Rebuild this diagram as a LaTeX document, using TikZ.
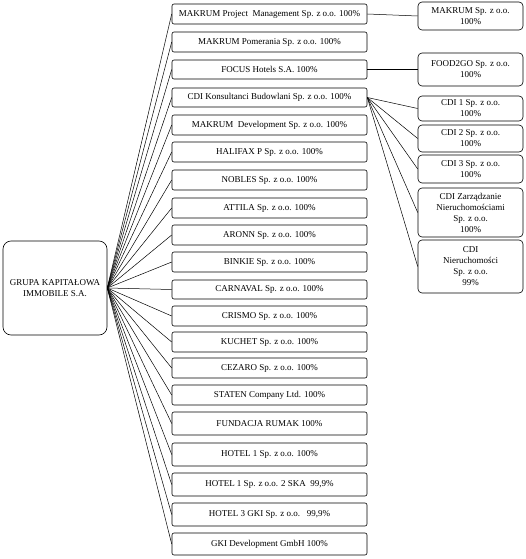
\documentclass[tikz,border=0pt]{standalone}
\usepackage{fontspec}
\setmainfont{Liberation Serif}
\begin{document}
\begin{tikzpicture}[x=1pt,y=-1pt,
  every node/.style={font=\fontsize{9}{11}\selectfont, inner sep=0pt, align=center},
  mid/.style={draw, rounded corners=2pt, minimum width=195pt, line width=0.6pt},
  sub/.style={draw, rounded corners=4pt, minimum width=105pt, line width=0.6pt},
  link/.style={line width=0.5pt}]
\useasboundingbox (0,0) rectangle (526,559);
\node[draw, rounded corners=8pt, minimum width=104pt, minimum height=94pt, line width=0.6pt] (g) at (55,288) {GRUPA KAPITAŁOWA\\IMMOBILE S.A.};
\node[mid, minimum height=20pt] (m1) at (269.5,14) {MAKRUM Project\ \ Management Sp. z o.o. 100\%};
\node[mid, minimum height=20pt] (m2) at (269.5,42) {MAKRUM Pomerania Sp. z o.o. 100\%};
\node[mid, minimum height=19pt] (m3) at (269.5,69.5) {FOCUS Hotels S.A. 100\%};
\node[mid, minimum height=19pt] (m4) at (269.5,97.5) {CDI Konsultanci Budowlani Sp. z o.o. 100\%};
\node[mid, minimum height=20pt] (m5) at (269.5,125) {MAKRUM\ \ Development Sp. z o.o. 100\%};
\node[mid, minimum height=20pt] (m6) at (269.5,152) {HALIFAX P Sp. z o.o. 100\%};
\node[mid, minimum height=20pt] (m7) at (269.5,180) {NOBLES Sp. z o.o. 100\%};
\node[mid, minimum height=20pt] (m8) at (269.5,208) {ATTILA Sp. z o.o. 100\%};
\node[mid, minimum height=20pt] (m9) at (269.5,235) {ARONN Sp. z o.o. 100\%};
\node[mid, minimum height=20pt] (m10) at (269.5,262) {BINKIE Sp. z o.o. 100\%};
\node[mid, minimum height=19pt] (m11) at (269.5,289.5) {CARNAVAL Sp. z o.o. 100\%};
\node[mid, minimum height=20pt] (m12) at (269.5,316) {CRISMO Sp. z o.o. 100\%};
\node[mid, minimum height=20pt] (m13) at (269.5,342) {KUCHET Sp. z o.o. 100\%};
\node[mid, minimum height=20pt] (m14) at (269.5,368) {CEZARO Sp. z o.o. 100\%};
\node[mid, minimum height=20pt] (m15) at (269.5,395) {STATEN Company Ltd. 100\%};
\node[mid, minimum height=23pt] (m16) at (269.5,423.5) {FUNDACJA RUMAK 100\%};
\node[mid, minimum height=23pt] (m17) at (269.5,454.5) {HOTEL 1 Sp. z o.o. 100\%};
\node[mid, minimum height=23pt] (m18) at (269.5,484.5) {HOTEL 1 Sp. z o.o. 2 SKA\ \ 99,9\%};
\node[mid, minimum height=23pt] (m19) at (269.5,514.5) {HOTEL 3 GKI Sp. z o.o.\ \ \ 99,9\%};
\node[mid, minimum height=22pt] (m20) at (269.5,544) {GKI Development GmbH 100\%};
\foreach \i in {1,...,20} \draw[link] (g.east) -- (m\i.west);
\node[sub, minimum height=28pt] (r1) at (470.5,16) {MAKRUM Sp. z o.o.\\100\%};
\node[sub, minimum height=33pt] (r2) at (470.5,69.5) {FOOD2GO Sp. z o.o.\\100\%};
\node[sub, minimum height=25pt] (r3) at (470.5,108.5) {CDI 1 Sp. z o.o.\\100\%};
\node[sub, minimum height=27pt] (r4) at (470.5,138.5) {CDI 2 Sp. z o.o.\\100\%};
\node[sub, minimum height=28pt] (r5) at (470.5,169) {CDI 3 Sp. z o.o.\\100\%};
\node[sub, minimum height=49pt] (r6) at (470.5,212.5) {CDI Zarządzanie\\Nieruchomościami\\Sp. z o.o.\\100\%};
\node[sub, minimum height=53pt] (r7) at (470.5,266.5) {CDI\\Nieruchomości\\Sp. z o.o.\\99\%};
\draw[link] (m1.east) -- (r1.west);
\draw[link] (m3.east) -- (r2.west);
\foreach \i in {3,...,7} \draw[link] (m4.east) -- (r\i.west);
\end{tikzpicture}
\end{document}
